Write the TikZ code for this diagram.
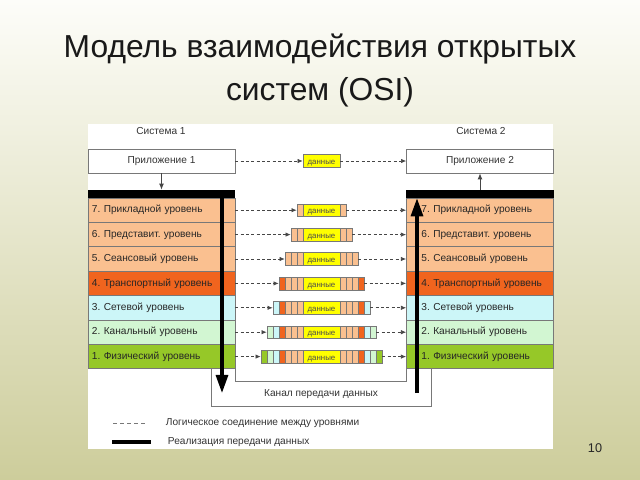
\documentclass[tikz,border=0pt]{standalone}
\usepackage{fontspec}
\setmainfont{Liberation Sans}
\usetikzlibrary{arrows.meta,positioning,calc}
\frenchspacing

\definecolor{slidetop}{RGB}{253,253,249}
\definecolor{slidebot}{RGB}{205,205,155}
\definecolor{peach}{RGB}{250,192,144}
\definecolor{transp}{RGB}{240,100,30}
\definecolor{netw}{RGB}{204,246,248}
\definecolor{link}{RGB}{210,246,210}
\definecolor{phys}{RGB}{150,200,40}
\definecolor{datayel}{RGB}{255,255,0}
\definecolor{inkgray}{RGB}{70,70,70}
\definecolor{framegray}{RGB}{120,120,120}

\begin{document}
\begin{tikzpicture}[
  x=0.025cm, y=-0.025cm,
  font=\fontsize{7.2}{8.6}\selectfont,
  layerleft/.style={draw=framegray, line width=0.5pt, minimum width=3.675cm, minimum height=0.61cm, inner xsep=0.1cm, inner ysep=0pt, text width=3.475cm, align=left, text=black!85},
  layerright/.style={layerleft, execute at begin node={\hspace*{0.275cm}}},
  appbox/.style={draw=framegray, fill=white, minimum width=3.675cm, minimum height=0.6cm, inner sep=0pt, text=black!80},
  blackbar/.style={fill=black, minimum width=3.675cm, minimum height=0.2cm, inner sep=0pt},
  packet/.style={draw=framegray, line width=0.4pt, fill=datayel, minimum height=0.32cm, inner sep=0pt, text height=1ex, text depth=0pt, font=\fontsize{5.6}{6}\selectfont, text=black!70},
  cell/.style={draw=framegray, line width=0.4pt},
  logiclink/.style={-{Latex[length=1.3mm,width=1.1mm]}, draw=inkgray, line width=0.5pt, dash pattern=on 2.2pt off 1.6pt},
  uplink/.style={-{Latex[length=1.5mm,width=1.2mm]}, draw=inkgray, line width=0.6pt},
  datapath/.style={-{Triangle[length=0.45cm,width=0.3cm]}, line width=2.2pt},
  channelline/.style={draw=framegray, line width=0.5pt},
  caption/.style={text=black!80},
  slidetitle/.style={font=\fontsize{22.6}{27}\selectfont, text=black!90, anchor=base}
]
  % slide background
  \useasboundingbox (0,0) rectangle (640,480);
  \shade[top color=slidetop, bottom color=slidebot] (0,0) rectangle (640,480);
  \node[slidetitle] (title1) at (320,58) {Модель взаимодействия открытых};
  \node[slidetitle] (title2) at (320,100) {систем (OSI)};
  \node[font=\fontsize{9}{10}\selectfont, text=black!85, anchor=base] (pageno) at (595,452) {10};

  % white panel
  \fill[white] (88,124) rectangle (553,449);

  \node[caption] (sys1) at (161,131) {Система 1};
  \node[caption] (sys2) at (481,131) {Система 2};
  \node[appbox] (A1) at (161.5,161) {Приложение 1};
  \node[appbox] (A2) at (480,161) {Приложение 2};
  \node[blackbar] (B1) at (161.5,194) {};
  \node[blackbar] (B2) at (480,194) {};
  \draw[uplink] (A1.south) -- (B1.north);
  \draw[uplink] (B2.north) -- (A2.south);

  % layers
  \foreach \k/\txt/\col in {7/Прикладной уровень/peach, 6/Представит. уровень/peach,
      5/Сеансовый уровень/peach, 4/Транспортный уровень/transp, 3/Сетевой уровень/netw,
      2/Канальный уровень/link, 1/Физический уровень/phys}{
    \pgfmathsetmacro\rowy{210.2+(7-\k)*24.4}
    \node[layerleft, fill=\col] (L\k) at (161.5,\rowy) {\k. \txt};
    \node[layerright, fill=\col] (R\k) at (480,\rowy) {\k. \txt};
  }

  % packets
  \node[packet, minimum width=0.925cm] (P8) at (321.5,161) {данные};
  \draw[logiclink] (A1.east) -- (P8.west);
  \draw[logiclink] (P8.east) -- (A2.west);
  \foreach \k in {7,...,1}{
    \pgfmathsetmacro\rowy{210.2+(7-\k)*24.4}
    \pgfmathtruncatemacro\n{8-\k}
    \node[packet, minimum width={(37+12*\n)*0.025cm}] (P\k) at (321.5,\rowy) {данные};
    \foreach \j/\c in {7/peach,6/peach,5/peach,4/transp,3/netw,2/link,1/phys}{
      \ifnum\j<\k\else
        \filldraw[cell, fill=\c] ({303-(8-\j)*6},{\rowy-6.4}) rectangle ({303-(7-\j)*6},{\rowy+6.4});
        \filldraw[cell, fill=\c] ({340+(7-\j)*6},{\rowy-6.4}) rectangle ({340+(8-\j)*6},{\rowy+6.4});
      \fi
    }
    \draw[logiclink] (L\k.east) -- (P\k.west);
    \draw[logiclink] (P\k.east) -- (R\k.west);
  }

  % channel
  \coordinate (chL) at (211,406);
  \coordinate (chR) at (431,406);
  \draw[channelline] (L1.south -| chL) -- (chL) -- (chR) -- (R1.south -| chR);
  \draw[channelline] (L1.south east) -- ++(0,12.2) -| (R1.south west);
  \node[caption] (chan) at (321,394) {Канал передачи данных};

  % data path
  \coordinate (tx1) at (222,393);
  \coordinate (tx2) at (417,393);
  \draw[datapath] (B1.south -| tx1) -- (tx1);
  \draw[datapath] (tx2) -- (B2.south -| tx2);

  % legend
  \draw[framegray, line width=0.5pt, dash pattern=on 3pt off 2pt] (113,423) -- (147,423);
  \node[caption, anchor=west] (leg1) at (161,423) {Логическое соединение между уровнями};
  \draw[line width=2.5pt] (112,442) -- (151,442);
  \node[caption, anchor=west] (leg2) at (163,442) {Реализация передачи данных};
\end{tikzpicture}
\end{document}
